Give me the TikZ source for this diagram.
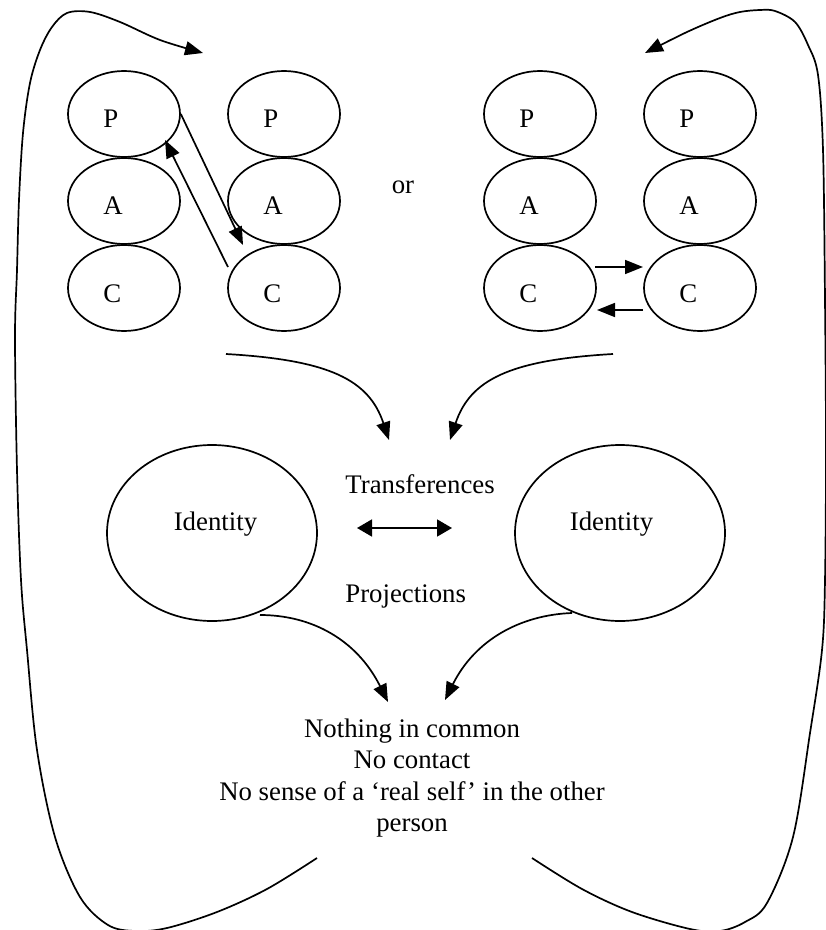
\documentclass[tikz,border=0pt]{standalone}
\usepackage{fontspec}
\setmainfont{Liberation Serif}
\usetikzlibrary{arrows.meta,shapes.geometric}
\begin{document}
\begin{tikzpicture}[x=0.5pt,y=-0.5pt,
  every node/.style={font=\fontsize{13.4pt}{15.65pt}\selectfont, inner sep=0pt},
  line/.style={line width=0.85pt},
  arr/.style={line, -{Triangle[length=9pt,width=7pt]}},
  dblarr/.style={line, {Triangle[length=7.5pt,width=8.5pt]}-{Triangle[length=7.5pt,width=8.5pt]}},
  pac/.style={draw, ellipse, line width=0.85pt, minimum width=56pt, minimum height=43pt},
  ident/.style={draw, ellipse, line width=0.85pt, minimum width=105pt, minimum height=88pt},
  lab/.style={anchor=base west},
  txt/.style={anchor=base}]
\useasboundingbox (0,0) rectangle (825,930);

% PAC ellipses
\foreach \n/\x in {1/124,2/284,3/540,4/700}{
  \node[pac] (p\n) at (\x,114) {};
  \node[pac] (a\n) at (\x,201) {};
  \node[pac] (c\n) at (\x,288) {};
  \node[lab] (pl\n) at (\x-21,128) {P};
  \node[lab] (al\n) at (\x-21,215) {A};
  \node[lab] (cl\n) at (\x-21,302) {C};
}
\node[txt] (or) at (403,194) {or};

% arrows between ego states
\coordinate (x1e) at (243,245);
\draw[arr] (p1.east) -- (x1e);
\coordinate (x2s) at (228,267);
\coordinate (x2e) at (165,140);
\draw[arr] (x2s) -- (x2e);
\coordinate (y1s) at (595,267);
\coordinate (y1e) at (643,267);
\draw[arr] (y1s) -- (y1e);
\coordinate (y2s) at (643,310);
\coordinate (y2e) at (597,310);
\draw[arr] (y2s) -- (y2e);

% identity ellipses
\node[ident] (id1) at (212,533) {};
\node[ident] (id2) at (620,533) {};
\node[txt] (id1t) at (215.5,530) {Identity};
\node[txt] (id2t) at (611.5,530) {Identity};
\node[lab] (tr) at (345,493) {Transferences};
\node[lab] (pr) at (345,602) {Projections};
\coordinate (d1) at (357,528);
\coordinate (d2) at (452,528);
\draw[dblarr] (d1) -- (d2);

% curved arrows top
\coordinate (m1s) at (226,354);
\coordinate (m1e) at (389,440);
\draw[arr] (m1s) .. controls (330,360) and (369,380) .. (m1e);
\coordinate (m2s) at (613,354);
\coordinate (m2e) at (450,440);
\draw[arr] (m2s) .. controls (509,360) and (470,380) .. (m2e);

% curved arrows bottom
\coordinate (n1s) at (260,615);
\coordinate (n1e) at (388,702);
\draw[arr] (n1s) .. controls (312,615) and (357,640) .. (n1e);
\coordinate (n2s) at (572,613);
\coordinate (n2e) at (445,700);
\draw[arr] (n2s) .. controls (520,615) and (475,640) .. (n2e);

% bottom text
\node[txt] (t1) at (412,737) {Nothing in common};
\node[txt] (t2) at (412,768) {No contact};
\node[txt] (t3) at (412,800) {No sense of a ‘real self’ in the other};
\node[txt] (t4) at (412,831) {person};

% big loops
\draw[arr] plot[smooth, tension=0.55] coordinates {
  (317,858) (267,889) (217,912) (167,928) (135,931) (108,925) (80,897)
  (55,837) (37,750) (27,650) (21,580) (17,470) (15,337) (17,270) (19,200)
  (23,133) (30,83) (40,50) (52,27) (67,13) (90,12) (120,22) (160,40) (203,53)};
\draw[arr] plot[smooth, tension=0.55] coordinates {
  (532,858) (582,889) (632,912) (690,929) (720,931) (745,922) (767,903)
  (793,837) (810,733) (822,650) (825,580) (826,450) (825,300) (823,150)
  (818,75) (808,45) (795,22) (775,11) (760,10) (740,12) (720,18) (687,32) (645,53)};
\end{tikzpicture}
\end{document}
